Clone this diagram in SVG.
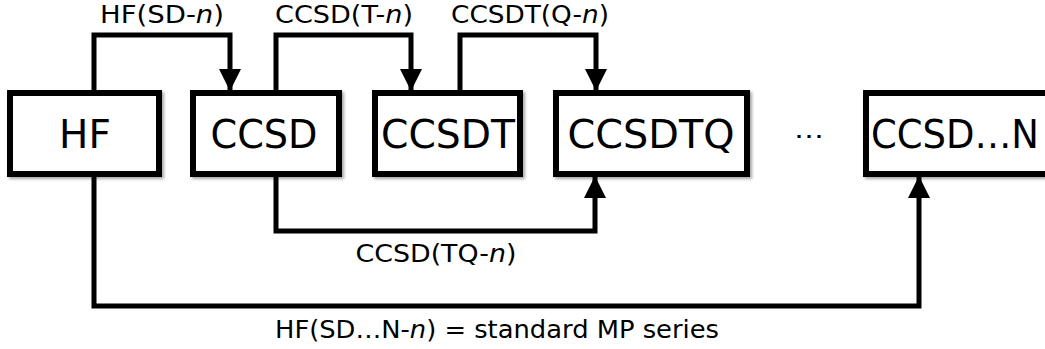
<svg xmlns="http://www.w3.org/2000/svg" width="1045" height="349" viewBox="0 0 1045 349">
<style>
.box{fill:#fff;stroke:#000;stroke-width:6;filter:url(#sh)}
.big{font-family:"DejaVu Sans","Verdana",sans-serif;font-size:39px;fill:#000;text-anchor:middle}
.lbl{font-family:"DejaVu Sans","Verdana",sans-serif;font-size:24px;fill:#000;text-anchor:middle}
.con{fill:none;stroke:#000;stroke-width:5;stroke-linejoin:miter}
.it{font-style:italic}
</style>
<defs>
<filter id="sh" x="-10%" y="-10%" width="130%" height="130%">
<feDropShadow dx="2" dy="2" stdDeviation="1.5" flood-color="#000" flood-opacity="0.35"/>
</filter>
<marker id="ah" markerWidth="22" markerHeight="22" viewBox="0 0 22 22" refX="21" refY="11" orient="auto" markerUnits="userSpaceOnUse">
<path d="M0,0 L22,11 L0,22 Z" fill="#000"/>
</marker>
</defs>
<g id="n-hf"><rect class="box" x="10" y="93" width="149" height="81"/><text class="big" x="85" y="148">HF</text></g>
<g id="n-ccsd"><rect class="box" x="193" y="93" width="146" height="81"/><text class="big" x="264" y="148" textLength="107" lengthAdjust="spacingAndGlyphs">CCSD</text></g>
<g id="n-ccsdt"><rect class="box" x="375" y="93" width="145" height="81"/><text class="big" x="448" y="148" textLength="134" lengthAdjust="spacingAndGlyphs">CCSDT</text></g>
<g id="n-ccsdtq"><rect class="box" x="556" y="93" width="191" height="81"/><text class="big" x="651" y="148" textLength="167" lengthAdjust="spacingAndGlyphs">CCSDTQ</text></g>
<g id="n-dots"><text class="lbl" x="809" y="138" textLength="30" lengthAdjust="spacingAndGlyphs">…</text></g>
<g id="n-ccsdn"><rect class="box" x="866" y="93" width="200" height="81"/><text class="big" x="955" y="148" textLength="168" lengthAdjust="spacingAndGlyphs">CCSD…N</text></g>
<g id="connectors">
<polyline class="con" points="94,90 94,35 230,35 230,90" marker-end="url(#ah)"/>
<polyline class="con" points="276,90 276,35 411,35 411,90" marker-end="url(#ah)"/>
<polyline class="con" points="460,90 460,35 596,35 596,90" marker-end="url(#ah)"/>
<polyline class="con" points="276,177 276,231 595,231 595,177" marker-end="url(#ah)"/>
<polyline class="con" points="94,177 94,306 919,306 919,177" marker-end="url(#ah)"/>
<text class="lbl" x="162" y="23" textLength="124" lengthAdjust="spacingAndGlyphs">HF(SD-<tspan class="it">n</tspan>)</text>
<text class="lbl" x="344" y="23" textLength="138" lengthAdjust="spacingAndGlyphs">CCSD(T-<tspan class="it">n</tspan>)</text>
<text class="lbl" x="530" y="23" textLength="158" lengthAdjust="spacingAndGlyphs">CCSDT(Q-<tspan class="it">n</tspan>)</text>
<text class="lbl" x="436" y="262" textLength="161" lengthAdjust="spacingAndGlyphs">CCSD(TQ-<tspan class="it">n</tspan>)</text>
<text class="lbl" x="497" y="338" textLength="444" lengthAdjust="spacingAndGlyphs">HF(SD…N-<tspan class="it">n</tspan>) = standard MP series</text>
</g>
</svg>
